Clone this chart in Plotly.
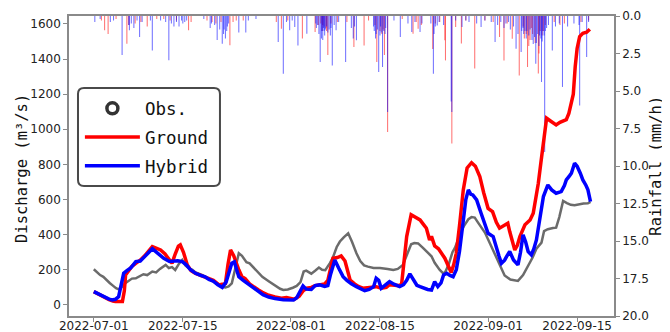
import pandas as pd
import plotly.graph_objects as go

START = pd.Timestamp("2022-07-01")

# ---- discharge (m3/s); time as day offsets from 2022-07-01 ----
obs_days = [0.0, 0.5, 1.0, 1.5, 2.0, 2.5, 3.0, 3.5, 3.9, 4.5, 5.0, 5.5, 6.0, 6.6, 7.2, 7.8, 8.4, 9.2, 9.8, 10.4,
            11.3, 11.8, 12.3, 12.8, 13.4, 13.9, 14.4, 14.9, 15.5, 16.0, 17.0, 18.0, 19.0, 19.7, 20.2, 20.7, 21.2,
            21.7, 22.2, 22.8, 23.3, 24.0, 24.5, 25.2, 25.9, 26.5, 27.5, 28.5, 29.3, 29.8, 30.5, 31.3, 31.9, 32.5,
            33.0, 33.4, 34.2, 34.8, 35.4, 35.9, 36.4, 37.1, 37.6, 38.2, 38.7, 39.3, 40.0, 40.6, 41.3, 41.9, 42.5,
            43.1, 44.0, 45.0, 45.5, 46.2, 47.1, 47.8, 48.6, 49.2, 49.9, 50.4, 51.0, 51.8, 52.4, 53.1, 53.6, 54.4,
            55.0, 55.3, 55.8, 56.4, 56.8, 57.3, 57.8, 58.3, 58.9, 59.4, 59.9, 60.4, 61.0, 61.5, 62.3, 63.1, 63.8,
            64.6, 65.5, 66.1, 66.7, 67.5, 68.3, 69.0, 69.6, 70.4, 70.8, 71.4, 72.2, 72.7, 73.2, 73.8, 74.4, 75.0,
            75.6, 76.3, 77.0, 77.7, 78.1]
obs_vals = [203, 185, 170, 160, 140, 125, 110, 95, 89, 105, 125, 140, 150, 152, 165, 175, 170, 190, 185, 205,
            228, 210, 215, 199, 235, 256, 225, 210, 200, 185, 171, 150, 125, 114, 103, 100, 105,
            123, 200, 294, 280, 243, 237, 210, 180, 160, 135, 110, 92, 85, 88, 98, 108, 130,
            190, 195, 178, 195, 213, 200, 198, 237, 270, 330, 361, 385, 408, 360, 294, 250, 225,
            218, 210, 210, 209, 205, 199, 205, 228, 280, 345, 352, 350, 323, 300, 277, 240, 199,
            178, 190, 230, 300, 326, 380, 421, 455, 488, 500, 497, 470, 440, 412, 350, 289, 230,
            168, 145, 140, 137, 170, 222, 270, 320, 355, 420, 431, 438, 440, 500, 592, 580, 570,
            568, 575, 578, 579, 587]

ground_days = [0.0, 0.8, 1.6, 2.4, 3.0, 3.4, 4.5, 4.8, 5.0, 5.5, 6.0, 6.6, 7.3, 8.0, 8.6, 9.2, 9.7, 10.5, 11.2,
               11.8, 12.3, 12.8, 13.3, 13.6, 14.1, 14.7, 15.3, 16.0, 16.8, 17.5, 18.1, 18.8, 19.7, 20.2, 20.7,
               21.1, 21.5, 22.0, 22.3, 22.8, 23.3, 23.8, 24.5, 25.2, 25.9, 26.5, 27.5, 28.5, 29.5, 30.3, 31.0,
               31.5, 32.3, 32.9, 33.5, 34.2, 34.8, 35.5, 36.3, 36.8, 37.2, 37.6, 38.3, 38.9, 39.5, 40.3, 41.0,
               41.6, 42.3, 43.0, 43.7, 44.4, 45.2, 46.0, 46.5, 47.3, 48.0, 48.4, 48.8, 49.2, 49.9, 50.5, 51.3,
               51.8, 52.3, 52.8, 53.1, 53.6, 54.2, 55.2, 55.7, 56.2, 56.6, 57.0, 57.5, 58.1, 58.7, 59.4, 60.0,
               60.7, 61.3, 62.0, 62.7, 63.3, 63.8, 64.5, 65.1, 65.4, 65.9, 66.2, 66.6, 67.0, 67.8, 68.6, 69.1,
               69.5, 69.9, 70.3, 70.7, 71.2, 71.7, 72.2, 72.7, 73.3, 73.8, 74.3, 74.7, 75.1, 75.4, 75.7, 76.0,
               76.4, 76.9, 77.5, 78.0]
ground_vals = [76, 60, 45, 30, 22, 19, 19, 80, 171, 195, 220, 237, 255, 280, 305, 332, 325, 313, 290,
               260, 237, 290, 335, 342, 300, 228, 195, 180, 170, 160, 152, 140, 114, 120, 123,
               230, 313, 280, 247, 200, 161, 150, 120, 100, 85, 72, 55, 45, 38, 42, 35,
               32, 50, 80, 95, 100, 110, 114, 120, 140, 200, 266, 270, 279, 250, 142, 120,
               105, 95, 98, 100, 104, 95, 100, 115, 110, 110, 118, 250, 389, 513, 500, 484,
               460, 437, 370, 390, 336, 320, 266, 230, 185, 230, 294, 450, 655, 780, 810, 790,
               731, 640, 550, 531, 470, 437, 455, 465, 418, 360, 313, 340, 389, 456, 484, 522,
               600, 693, 810, 921, 1063, 1050, 1035, 1025, 1040, 1050, 1055, 1090, 1150, 1200, 1357, 1460,
               1528, 1547, 1553, 1570]

hybrid_days = [0.0, 0.8, 1.6, 2.4, 2.9, 3.4, 3.9, 4.3, 4.7, 5.2, 5.8, 6.6, 7.3, 8.0, 8.6, 9.2, 9.7, 10.3, 11.0,
               11.9, 12.5, 13.2, 13.9, 14.5, 15.2, 16.0, 16.8, 17.5, 18.1, 18.8, 19.5, 20.2, 20.8, 21.3, 21.7,
               22.1, 22.5, 22.8, 23.5, 24.5, 25.2, 25.9, 26.6, 27.5, 28.5, 29.8, 30.5, 31.4, 31.9, 32.5, 32.9,
               33.4, 34.2, 34.8, 35.5, 36.3, 36.8, 37.2, 37.6, 37.9, 38.5, 39.2, 39.8, 40.5, 41.3, 42.0, 42.6,
               43.3, 44.0, 44.4, 44.8, 45.2, 45.8, 46.5, 47.2, 48.1, 48.7, 49.2, 49.7, 50.2, 50.8, 51.3, 52.0,
               52.5, 53.1, 53.6, 54.1, 54.6, 55.0, 55.5, 56.0, 56.5, 57.0, 57.5, 58.0, 58.5, 58.9, 59.3, 59.6,
               60.2, 60.9, 61.5, 62.0, 62.8, 63.3, 63.7, 64.1, 64.6, 64.9, 65.4, 66.0, 66.7, 67.1, 67.5, 67.9,
               68.3, 68.8, 69.2, 69.6, 70.1, 70.7, 71.4, 72.0, 72.7, 73.5, 74.0, 74.3, 74.8, 75.1, 75.6, 76.0,
               76.5, 76.9, 77.4, 77.7, 78.1]
hybrid_vals = [76, 60, 45, 33, 28, 32, 47, 110, 180, 195, 210, 247, 250, 275, 295, 320, 305, 285, 265,
               247, 250, 252, 247, 230, 200, 180, 168, 160, 145, 135, 115, 100, 130, 190, 237,
               245, 200, 161, 140, 114, 95, 72, 58, 45, 36, 30, 28, 28, 40, 80, 108,
               90, 88, 110, 114, 105, 110, 170, 230, 256, 210, 161, 140, 120, 104, 90, 81,
               88, 104, 152, 140, 95, 110, 133, 118, 104, 115, 140, 177, 150, 112, 104, 92,
               88, 85, 133, 104, 125, 170, 180, 168, 161, 200, 304, 450, 600, 655, 630, 626,
               598, 522, 460, 408, 389, 323, 280, 237, 255, 275, 304, 256, 228, 300, 399, 360,
               304, 285, 320, 370, 490, 617, 683, 655, 636, 645, 680, 712, 735, 750, 807, 790,
               750, 712, 680, 655, 588]

# ---- rainfall (mm/h), hourly bars hanging from the top ----
rain_blue_days = [0.16, 1.0, 2.6, 3.1, 4.45, 5.6, 5.9, 6.3, 6.8, 7.2, 7.6, 8.9, 9.2, 10.5, 11.3, 11.8, 12.2, 12.6,
                  13.0, 13.4, 13.8, 14.3, 17.3, 18.3, 18.5, 19.0, 19.4, 19.8, 20.2, 20.4, 20.7, 21.0, 21.2, 22.8,
                  23.9, 24.3, 25.5, 29.0, 29.8, 30.3, 30.8, 31.2, 31.6, 32.1, 33.5, 35.2, 35.6, 35.9, 36.1,
                  36.3, 36.6, 37.0, 37.5, 37.8, 38.1, 38.5, 39.6, 40.5, 40.8, 41.0, 41.3, 44.3, 44.6, 44.8, 45.1,
                  45.4, 45.9, 46.2, 47.2, 48.2, 49.4, 50.0, 50.5, 51.3, 51.6, 53.0, 53.4, 53.5, 53.7, 54.0, 54.3,
                  55.0, 56.2, 56.3, 56.9, 57.9, 58.5, 59.0, 60.2, 60.9, 61.5, 62.5, 63.1, 63.5, 64.0, 64.5, 64.8,
                  65.2, 65.5, 66.0, 66.4, 66.7, 67.2, 67.5, 67.8, 68.0, 68.6, 69.1, 69.5, 69.8, 70.1, 70.4, 70.6,
                  70.9, 71.2, 71.5, 72.1, 72.6, 73.2, 73.7, 74.5, 75.5, 76.3, 76.4, 76.8, 77.5, 77.8,
                  5.5, 14.0, 14.6, 20.5, 20.9, 34.9, 35.0, 35.4, 35.8, 36.0, 36.2, 36.4, 36.8, 37.2, 37.3,
                  44.0, 44.1, 44.4, 45.0, 45.2, 45.6, 45.8, 67.3, 67.6, 68.1, 68.4, 68.9, 69.3, 69.6, 70.0,
                  70.3, 70.5, 70.8, 71.0]
rain_blue_vals = [0.4, 0.2, 0.4, 0.3, 2.6, 0.95, 0.5, 0.8, 0.3, 1.4, 0.4, 0.3, 2.3, 0.3, 0.4, 2.95, 0.5, 0.7,
                  0.4, 0.7, 0.3, 0.4, 0.2, 0.8, 0.5, 0.6, 1.6, 0.9, 1.85, 1.2, 1.5, 0.7, 0.5, 1.1,
                  1.1, 0.3, 0.2, 1.73, 3.85, 0.4, 0.95, 0.3, 0.73, 1.96, 1.18, 0.6, 3.07, 1.0, 0.8,
                  1.3, 0.7, 0.9, 3.3, 0.6, 0.95, 0.4, 3.07, 0.8, 1.5, 0.7, 1.62, 1.5, 0.9, 3.73, 0.7,
                  3.4, 0.8, 6.4, 0.3, 1.4, 0.5, 1.07, 0.4, 1.07, 0.5, 0.5, 3.85, 1.2, 0.7, 0.63, 0.4,
                  0.6, 5.7, 6.4, 0.3, 0.73, 0.3, 0.4, 0.5, 0.73, 0.3, 0.4, 1.73, 0.6, 0.4, 0.8, 0.5,
                  0.4, 0.9, 0.7, 2.18, 1.2, 2.4, 0.8, 1.0, 1.5, 0.9, 1.87, 3.18, 1.2, 1.3, 4.4, 1.0,
                  9.07, 0.8, 0.6, 2.3, 0.7, 0.5, 4.73, 0.7, 0.5, 0.6, 5.96, 0.4, 2.73, 0.4,
                  0.6, 0.5, 0.3, 0.9, 1.0, 0.5, 0.8, 1.2, 1.5, 1.6, 1.0, 0.9, 1.1, 1.3, 0.8,
                  0.7, 1.0, 1.2, 1.3, 1.1, 1.0, 1.2, 1.0, 1.2, 1.0, 1.3, 1.6, 1.4, 1.8, 2.0,
                  1.5, 1.7, 1.3, 1.0]
rain_red_days = [1.2, 1.7, 2.25, 3.5, 5.2, 5.5, 6.5, 7.4, 8.4, 9.9, 11.0, 12.0, 13.0, 14.9, 15.3, 17.8, 18.6,
                 19.2, 20.0, 21.4, 21.9, 22.4, 23.5, 28.7, 29.5, 30.5, 32.8, 34.8, 35.7, 36.0, 36.5, 36.8, 37.3,
                 38.3, 39.8, 40.9, 42.5, 43.2, 44.2, 44.5, 45.0, 45.7, 46.2, 48.5, 50.2, 50.7, 51.0, 51.5, 53.3,
                 53.7, 54.4, 55.2, 55.3, 56.3, 56.9, 57.8, 58.5, 59.9, 61.5, 62.8, 63.8, 64.5, 65.0, 65.8, 66.9,
                 67.5, 68.2, 68.4, 68.8, 69.9, 70.2, 71.0, 72.4, 73.3, 74.0, 76.6, 77.8,
                 35.3, 35.9, 36.2, 36.6, 45.3, 45.5, 67.7, 68.0, 68.6, 69.0, 69.4, 70.0, 70.5, 70.7]
rain_red_vals = [0.3, 0.95, 1.2, 0.2, 1.85, 0.6, 0.5, 0.4, 0.7, 0.2, 0.2, 0.3, 0.3, 0.95, 0.4, 0.3, 0.4,
                 0.5, 0.4, 1.95, 0.4, 0.3, 0.3, 0.4, 0.85, 0.3, 1.5, 1.07, 0.5, 0.6, 0.8, 2.6, 0.5,
                 0.4, 0.4, 2.07, 1.96, 0.3, 0.6, 3.07, 1.0, 2.6, 7.73, 0.2, 1.18, 0.4, 0.85, 0.6, 2.2,
                 0.5, 0.4, 1.62, 2.96, 8.5, 0.73, 1.84, 0.3, 3.5, 0.3, 0.4, 1.4, 2.96, 0.5, 1.51, 3.96,
                 0.7, 3.4, 2.0, 0.8, 3.84, 1.0, 0.6, 0.4, 0.6, 0.5, 0.4, 0.3,
                 0.6, 1.0, 0.7, 1.0, 1.2, 0.9, 1.5, 1.2, 1.6, 1.2, 1.8, 2.5, 1.3, 1.0]

x_ticks = ["2022-07-01", "2022-07-15", "2022-08-01", "2022-08-15", "2022-09-01", "2022-09-15"]
q_ticks = [0, 200, 400, 600, 800, 1000, 1200, 1400, 1600]
r_ticks = [0.0, 2.5, 5.0, 7.5, 10.0, 12.5, 15.0, 17.5, 20.0]


def to_time(days):
    return START + pd.to_timedelta(days, unit="D")


MONO = "DejaVu Sans Mono"
SANS = "DejaVu Sans"
AXC = "#8a8a8a"
TXT = "#222222"

fig = go.Figure()

BAR_W = 4 * 3600 * 1000
fig.add_trace(go.Bar(x=to_time(rain_red_days), y=rain_red_vals, yaxis="y", width=BAR_W,
                     marker=dict(color="rgba(255,0,0,0.55)", line=dict(width=0)), showlegend=False))
fig.add_trace(go.Bar(x=to_time(rain_blue_days), y=rain_blue_vals, yaxis="y", width=BAR_W,
                     marker=dict(color="rgba(0,0,255,0.55)", line=dict(width=0)), showlegend=False))

fig.add_trace(go.Scatter(x=to_time(obs_days), y=obs_vals, yaxis="y2", mode="lines",
                         line=dict(color="rgba(70,70,70,0.8)", width=2.5), showlegend=False))
fig.add_trace(go.Scatter(x=[None], y=[None], yaxis="y2", mode="markers", name="Obs.", legendgroup="a",
                         marker=dict(symbol="circle-open", size=11, color="#333333", line=dict(width=3.5))))
fig.add_trace(go.Scatter(x=to_time(ground_days), y=ground_vals, yaxis="y2", mode="lines", name="Ground",
                         legendgroup="b", line=dict(color="#ff0000", width=3.5)))
fig.add_trace(go.Scatter(x=to_time(hybrid_days), y=hybrid_vals, yaxis="y2", mode="lines", name="Hybrid",
                         legendgroup="c", line=dict(color="#0000ff", width=3.5)))

# page body has an 8px margin: figure is 662x324, plot area ends up at x 69..614, y 16..316
fig.update_layout(
    width=662, height=324,
    margin=dict(l=61, r=56, t=8, b=16),
    paper_bgcolor="white", plot_bgcolor="white",
    barmode="overlay",
    font=dict(family=SANS, size=12, color=TXT),
    xaxis=dict(
        range=[to_time(-3.9), to_time(81.8)],
        tickvals=x_ticks, tickformat="%Y-%m-%d",
        showgrid=False, zeroline=False,
        showline=True, linecolor=AXC, linewidth=1.5, mirror=True,
        ticks="outside", ticklen=4, tickcolor=AXC,
        ticklabelstandoff=-6,
        tickfont=dict(family=SANS, size=12, color=TXT),
        automargin=False,
    ),
    yaxis=dict(
        side="right", range=[20, 0],
        tickvals=r_ticks, tickformat=".1f",
        showgrid=False, zeroline=False,
        showline=True, linecolor=AXC, linewidth=1.5,
        ticks="outside", ticklen=4, tickcolor=AXC,
        tickfont=dict(family=SANS, size=12, color=TXT),
        automargin=False,
    ),
    yaxis2=dict(
        side="left", overlaying="y", range=[-63, 1645],
        tickvals=q_ticks,
        showgrid=False, zeroline=False,
        showline=True, linecolor=AXC, linewidth=1.5,
        ticks="outside", ticklen=4, tickcolor=AXC,
        tickfont=dict(family=SANS, size=12, color=TXT),
        automargin=False,
    ),
    legend=dict(
        x=0.02, y=0.752, xanchor="left", yanchor="top",
        bgcolor="rgba(0,0,0,0)", borderwidth=0,
        font=dict(family=MONO, size=17.5, color="#111111"),
        itemwidth=55, tracegroupgap=3,
    ),
    annotations=[
        dict(text="Discharge (m³/s)", xref="paper", yref="paper", x=-0.0862, y=0.49,
             textangle=-90, showarrow=False, xanchor="center", yanchor="middle",
             font=dict(family=MONO, size=15.5, color="#111111")),
        dict(text="Rainfall (mm/h)", xref="paper", yref="paper", x=1.0765, y=0.5,
             textangle=-90, showarrow=False, xanchor="center", yanchor="middle",
             font=dict(family=MONO, size=15.5, color="#111111")),
    ],
    shapes=[dict(
        type="path", xref="paper", yref="paper", layer="above",
        path="M 0.0275,0.76 L 0.266,0.76 Q 0.277,0.76 0.277,0.74 L 0.277,0.453 Q 0.277,0.433 0.266,0.433 "
             "L 0.0275,0.433 Q 0.0165,0.433 0.0165,0.453 L 0.0165,0.74 Q 0.0165,0.76 0.0275,0.76 Z",
        line=dict(color="#4a4a4a", width=2), fillcolor="rgba(255,255,255,0.85)",
    )],
)

fig.write_html("out.html")
